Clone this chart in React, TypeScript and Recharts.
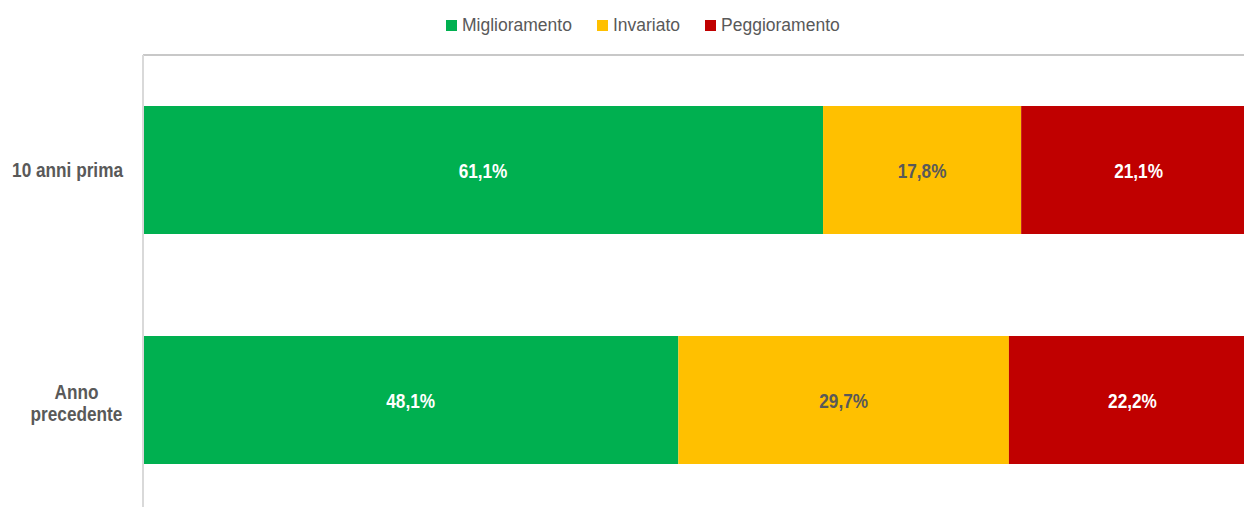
import { BarChart, Bar, XAxis, YAxis, Legend, LabelList } from "recharts";

// ── Data ────────────────────────────────────────────────────────
const categories = ["10 anni prima", "Anno precedente"];
const miglioramento = [61.1, 48.1];
const invariato = [17.8, 29.7];
const peggioramento = [21.1, 22.2];

const SERIES = [
  { key: "migl", name: "Miglioramento", color: "#00B050", label: "#FFFFFF" },
  { key: "inv", name: "Invariato", color: "#FFC000", label: "#595959" },
  { key: "pegg", name: "Peggioramento", color: "#C00000", label: "#FFFFFF" },
];

const data = categories.map((name, i) => ({
  name,
  migl: miglioramento[i],
  inv: invariato[i],
  pegg: peggioramento[i],
}));

const FONT = "'Liberation Sans', Arial, sans-serif";
// no Arial Narrow available: squeeze Liberation Sans horizontally
const NARROW_X = 0.82;

const fmt = (v: any) => `${Number(v).toFixed(1).replace(".", ",")}%`;

function NarrowText({ x, y, anchor, color, children }: any) {
  return (
    <text
      transform={`translate(${x},${y}) scale(${NARROW_X},1)`}
      textAnchor={anchor}
      fill={color}
      style={{ fontFamily: FONT, fontSize: 21, fontWeight: 700, fill: color }}
    >
      {children}
    </text>
  );
}

function CatTick({ x, y, payload }: any) {
  const text: string = payload.value;
  const lines = text.length > 14 ? text.split(" ") : [text];
  if (lines.length === 1) {
    return (
      <NarrowText x={x} y={y + 7} anchor="end" color="#595959">
        {text}
      </NarrowText>
    );
  }
  return (
    <g>
      {lines.map((l, i) => (
        <NarrowText key={l} x={x - 46.5} y={y - 1 + i * 22} anchor="middle" color="#595959">
          {l}
        </NarrowText>
      ))}
    </g>
  );
}

function BarLabel({ x, y, width, height, value, textColor }: any) {
  return (
    <NarrowText x={x + width / 2} y={y + height / 2 + 7.5} anchor="middle" color={textColor}>
      {fmt(value)}
    </NarrowText>
  );
}

function LegendContent() {
  return (
    <div style={{ display: "flex", alignItems: "center", fontFamily: FONT, fontSize: 17.5, color: "#595959" }}>
      {SERIES.map((s) => (
        <span key={s.key} style={{ display: "flex", alignItems: "center", marginRight: 25 }}>
          <span style={{ width: 11, height: 11, background: s.color, marginRight: 5, display: "inline-block" }} />
          {s.name}
        </span>
      ))}
    </div>
  );
}

export default function App() {
  return (
    <div style={{ position: "absolute", left: 0, top: 0, width: 1244, height: 507, overflow: "hidden", background: "#fff" }}>
      <BarChart
        width={1256}
        height={530}
        data={data}
        layout="vertical"
        margin={{ top: 54, right: 0, bottom: 15, left: 0 }}
      >
        <XAxis
          type="number"
          domain={[0, 100]}
          orientation="top"
          height={1}
          tick={false}
          tickLine={false}
          axisLine={{ stroke: "#c8c8c8", strokeWidth: 2 }}
        />
        <YAxis
          type="category"
          dataKey="name"
          width={143}
          tickLine={false}
          tickMargin={14}
          axisLine={{ stroke: "#d9d9d9", strokeWidth: 2 }}
          tick={<CatTick />}
        />
        <Legend
          verticalAlign="middle"
          align="center"
          content={<LegendContent />}
          wrapperStyle={{ top: 15, left: 446, width: "auto" }}
        />
        {SERIES.map((s) => (
          <Bar key={s.key} dataKey={s.key} name={s.name} stackId="a" fill={s.color} barSize={128} isAnimationActive={false}>
            <LabelList dataKey={s.key} content={<BarLabel textColor={s.label} />} />
          </Bar>
        ))}
      </BarChart>
    </div>
  );
}
